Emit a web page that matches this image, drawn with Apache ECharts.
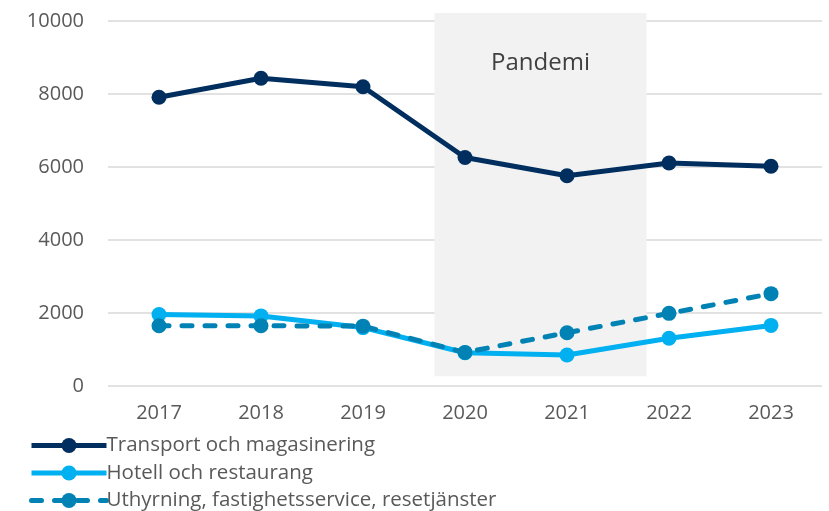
<!DOCTYPE html>
<html><head><meta charset="utf-8">
<script src="https://cdn.jsdelivr.net/npm/echarts@6/dist/echarts.min.js"></script>
<style>html,body{margin:0;padding:0;background:#fff}#c{width:829px;height:511px}</style>
</head><body><div id="c"></div>
<script>
const years = ['2017','2018','2019','2020','2021','2022','2023'];
const transport = [7910, 8430, 8200, 6260, 5760, 6110, 6020];
const hotell = [1960, 1920, 1600, 910, 850, 1310, 1660];
const uthyrning = [1650, 1650, 1640, 920, 1460, 1990, 2530];
const yTicks = [0, 2000, 4000, 6000, 8000, 10000];
const pandemiArea = [[2.7, 4.78, 270, 10220]];
const pandemiLabel = 'Pandemi';
const names = ['Transport och magasinering','Hotell och restaurang','Uthyrning, fastighetsservice, resetjänster'];

const chart = echarts.init(document.getElementById('c'));
const font = '"Open Sans", sans-serif';
chart.setOption({
  animation: false,
  grid: {left: 108, right: 7, top: 21, bottom: 125},
  xAxis: [
    {type: 'category', data: years, boundaryGap: true,
     axisLine: {show: false}, axisTick: {show: false},
     axisLabel: {color: '#595959', fontSize: 20, fontFamily: font, margin: 17}},
    {type: 'value', min: -0.5, max: 6.5, show: false}
  ],
  yAxis: {type: 'value', min: yTicks[0], max: yTicks[yTicks.length-1], interval: 2000,
    axisLine: {show: false}, axisTick: {show: false},
    splitLine: {lineStyle: {color: '#d9d9d9', width: 1.5}},
    axisLabel: {color: '#595959', fontSize: 20, fontFamily: font, margin: 24,
      formatter: function(v){ return String(v); }}},
  legend: {orient: 'vertical', left: 29, top: 435, itemWidth: 75, itemHeight: 19, itemGap: 6.5,
    padding: 0,
    textStyle: {color: '#595959', fontSize: 20.5, lineHeight: 19, fontFamily: font, padding: [0,0,0,-5]},
    lineStyle: {width: 5},
    data: names},
  series: [
    {type: 'custom', xAxisIndex: 1, yAxisIndex: 0, silent: true, z: 0, clip: false,
     data: pandemiArea,
     renderItem: function(params, api){
       const p1 = api.coord([api.value(0), api.value(3)]);
       const p2 = api.coord([api.value(1), api.value(2)]);
       const pc = api.coord([(api.value(0)+api.value(1))/2, 8850]);
       return {type: 'group', children: [
         {type: 'rect', shape: {x: p1[0], y: p1[1], width: p2[0]-p1[0], height: p2[1]-p1[1]},
          style: {fill: '#f2f2f2'}},
         {type: 'text', x: pc[0], y: pc[1],
          style: {text: pandemiLabel, fill: '#404040', font: '24px ' + font, textAlign: 'center', textVerticalAlign: 'middle'}}
       ]};
     }},
    {name: names[0], type: 'line', data: transport, symbol: 'circle', symbolSize: 15, z: 5,
     lineStyle: {color: '#002F5F', width: 5}, itemStyle: {color: '#002F5F'}},
    {name: names[1], type: 'line', data: hotell, symbol: 'circle', symbolSize: 15, z: 3,
     lineStyle: {color: '#00B0F0', width: 5}, itemStyle: {color: '#00B0F0'}},
    {name: names[2], type: 'line', data: uthyrning, symbol: 'circle', symbolSize: 15, z: 4,
     lineStyle: {color: '#0082B4', width: 5, type: [10, 13], cap: 'round'}, itemStyle: {color: '#0082B4'}}
  ]
});
</script></body></html>
